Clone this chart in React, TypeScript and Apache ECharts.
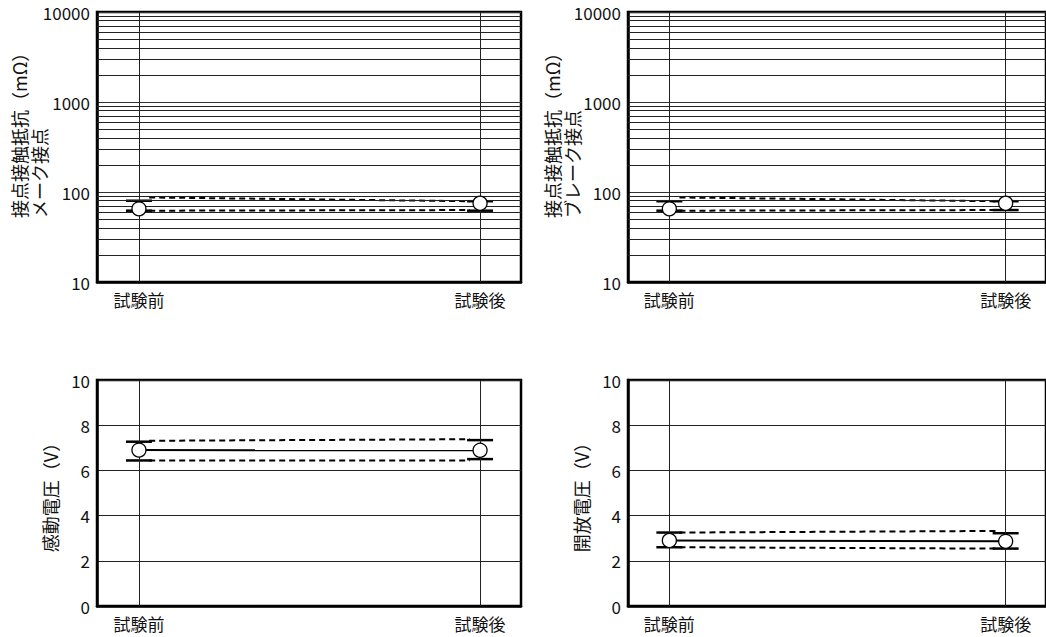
import React, { useEffect, useRef } from 'react';
import * as echarts from 'echarts';

const categories = ['試験前', '試験後'];
const logMinorLines = [20, 30, 40, 50, 60, 70, 80, 90, 200, 300, 400, 500, 600, 700, 800, 900, 2000, 3000, 4000, 5000, 6000, 7000, 8000, 9000];

// メーク接点 (make contacts), mΩ
const makeMean = [65, 75];
const makeMax = [80, 79];
const makeMin = [62, 62];
const makeUpperTrend = [87, 79];
const makeLowerTrend = [62, 63];

// ブレーク接点 (break contacts), mΩ
const breakMean = [65, 75];
const breakMax = [79, 79];
const breakMin = [62, 63];
const breakUpperTrend = [87, 79];
const breakLowerTrend = [62, 63];

// 感動電圧 (operate voltage), V
const operateMean = [6.9, 6.89];
const operateMax = [7.27, 7.34];
const operateMin = [6.44, 6.5];
const operateUpperTrend = [7.31, 7.38];
const operateLowerTrend = [6.44, 6.44];

// 開放電圧 (release voltage), V
const releaseMean = [2.9, 2.86];
const releaseMax = [3.25, 3.22];
const releaseMin = [2.6, 2.54];
const releaseUpperTrend = [3.25, 3.32];
const releaseLowerTrend = [2.6, 2.54];

const FONT = '"Noto Sans CJK JP", "Noto Sans", sans-serif';
const INK = '#111';

type Panel = {
  log: boolean;
  mean: number[];
  max: number[];
  min: number[];
  up: number[];
  low: number[];
  meanLine: boolean;
  name?: string;
  grid: { left: number; top: number; width: number; height: number };
};

const panels: Panel[] = [
  { log: true, mean: makeMean, max: makeMax, min: makeMin, up: makeUpperTrend, low: makeLowerTrend, meanLine: false,
    grid: { left: 97, top: 12, width: 424, height: 270 } },
  { log: true, mean: breakMean, max: breakMax, min: breakMin, up: breakUpperTrend, low: breakLowerTrend, meanLine: false,
    grid: { left: 628, top: 12, width: 424, height: 270 } },
  { log: false, mean: operateMean, max: operateMax, min: operateMin, up: operateUpperTrend, low: operateLowerTrend, meanLine: true,
    name: '感動電圧（V）', grid: { left: 97, top: 380, width: 424, height: 226 } },
  { log: false, mean: releaseMean, max: releaseMax, min: releaseMin, up: releaseUpperTrend, low: releaseLowerTrend, meanLine: true,
    name: '開放電圧（V）', grid: { left: 628, top: 380, width: 424, height: 226 } },
];

function buildOption() {
  const grid: any[] = [];
  const xAxis: any[] = [];
  const yAxis: any[] = [];
  const series: any[] = [];
  const inset = 0.03;
  panels.forEach((p, i) => {
    grid.push({ ...p.grid, show: true, borderColor: '#000', borderWidth: 2.5, backgroundColor: 'transparent' });
    xAxis.push({
      gridIndex: i,
      type: 'value',
      min: -0.123,
      max: 1.12,
      axisLine: { show: true, onZero: false, lineStyle: { color: '#000', width: 2.5 } },
      axisTick: { show: false, customValues: [0, 1] },
      splitLine: { show: false },
      axisLabel: {
        customValues: [0, 1],
        formatter: (v: number) => categories[Math.round(v)] ?? '',
        color: INK, fontSize: 17, fontFamily: FONT, margin: 9,
      },
    });
    yAxis.push(p.log ? {
      gridIndex: i,
      type: 'log',
      logBase: 10,
      min: 10,
      max: 10000,
      axisLine: { show: true, onZero: false, lineStyle: { color: '#000', width: 2.5 } },
      axisTick: { show: false },
      splitLine: { show: true, lineStyle: { color: '#333', width: 1 } },
      axisLabel: { color: INK, fontSize: 17, fontFamily: FONT, margin: 7, formatter: (v: number) => String(Math.round(v)) },
    } : {
      gridIndex: i,
      type: 'value',
      min: 0,
      max: 10,
      interval: 2,
      name: p.name,
      nameLocation: 'middle',
      nameRotate: 90,
      nameGap: 38,
      nameTextStyle: { color: INK, fontSize: 18, fontFamily: FONT },
      axisLine: { show: true, onZero: false, lineStyle: { color: '#000', width: 2.5 } },
      axisTick: { show: false },
      splitLine: { show: true, lineStyle: { color: '#222', width: 1 } },
      axisLabel: { color: INK, fontSize: 17, fontFamily: FONT, margin: 7 },
    });

    const markData: any[] = [{ xAxis: 0 }, { xAxis: 1 }];
    if (p.log) logMinorLines.forEach((v) => markData.push({ yAxis: v }));

    series.push({
      type: 'line', xAxisIndex: i, yAxisIndex: i, data: [], z: 1, silent: true,
      markLine: {
        silent: true, symbol: ['none', 'none'], label: { show: false },
        lineStyle: { color: '#222', width: 1, type: 'solid' },
        emphasis: { disabled: true },
        data: markData,
      },
    });
    series.push({
      type: 'line', xAxisIndex: i, yAxisIndex: i, z: 3, silent: true, symbol: 'none',
      lineStyle: { color: '#000', width: 2, type: [6, 4] },
      data: [[inset, p.up[0]], [1 - inset, p.up[1]]],
    });
    series.push({
      type: 'line', xAxisIndex: i, yAxisIndex: i, z: 3, silent: true, symbol: 'none',
      lineStyle: { color: '#000', width: 2, type: [6, 4] },
      data: [[inset, p.low[0]], [1 - inset, p.low[1]]],
    });
    if (p.meanLine) {
      series.push({
        type: 'line', xAxisIndex: i, yAxisIndex: i, z: 3, silent: true, symbol: 'none',
        lineStyle: { color: '#000', width: 2 },
        data: p.mean.map((v, k) => [k, v]),
      });
    }
    series.push({
      type: 'scatter', xAxisIndex: i, yAxisIndex: i, z: 4, silent: true,
      symbol: 'rect', symbolSize: [26, 2.5], itemStyle: { color: '#000', opacity: 1 },
      data: p.max.map((v, k) => [k, v]),
    });
    series.push({
      type: 'scatter', xAxisIndex: i, yAxisIndex: i, z: 4, silent: true,
      symbol: 'rect', symbolSize: [26, 2.5], itemStyle: { color: '#000', opacity: 1 },
      data: p.min.map((v, k) => [k, v]),
    });
    series.push({
      type: 'scatter', xAxisIndex: i, yAxisIndex: i, z: 5, silent: true,
      symbol: 'circle', symbolSize: 14,
      itemStyle: { color: '#fff', borderColor: '#000', borderWidth: 1.3, opacity: 1 },
      data: p.mean.map((v, k) => [k, v]),
    });
  });

  const nameStyle = { fill: INK, fontSize: 18, fontFamily: FONT };
  const graphic = [
    { type: 'text', x: 19, y: 218, rotation: Math.PI / 2, style: { ...nameStyle, text: '接点接触抵抗（mΩ）', align: 'left', verticalAlign: 'middle' } },
    { type: 'text', x: 39, y: 218, rotation: Math.PI / 2, style: { ...nameStyle, text: 'メーク接点', align: 'left', verticalAlign: 'middle' } },
    { type: 'text', x: 552, y: 218, rotation: Math.PI / 2, style: { ...nameStyle, text: '接点接触抵抗（mΩ）', align: 'left', verticalAlign: 'middle' } },
    { type: 'text', x: 572, y: 218, rotation: Math.PI / 2, style: { ...nameStyle, text: 'ブレーク接点', align: 'left', verticalAlign: 'middle' } },
  ];

  return { animation: false, backgroundColor: '#fff', grid, xAxis, yAxis, series, graphic };
}

export default function App() {
  const ref = useRef<HTMLDivElement>(null);
  useEffect(() => {
    if (!ref.current) return;
    const chart = echarts.init(ref.current, undefined, { renderer: 'svg' });
    chart.setOption(buildOption() as any);
    return () => chart.dispose();
  }, []);
  return <div ref={ref} style={{ position: 'fixed', left: 0, top: 0, width: 1046, height: 637, background: '#fff' }} />;
}
